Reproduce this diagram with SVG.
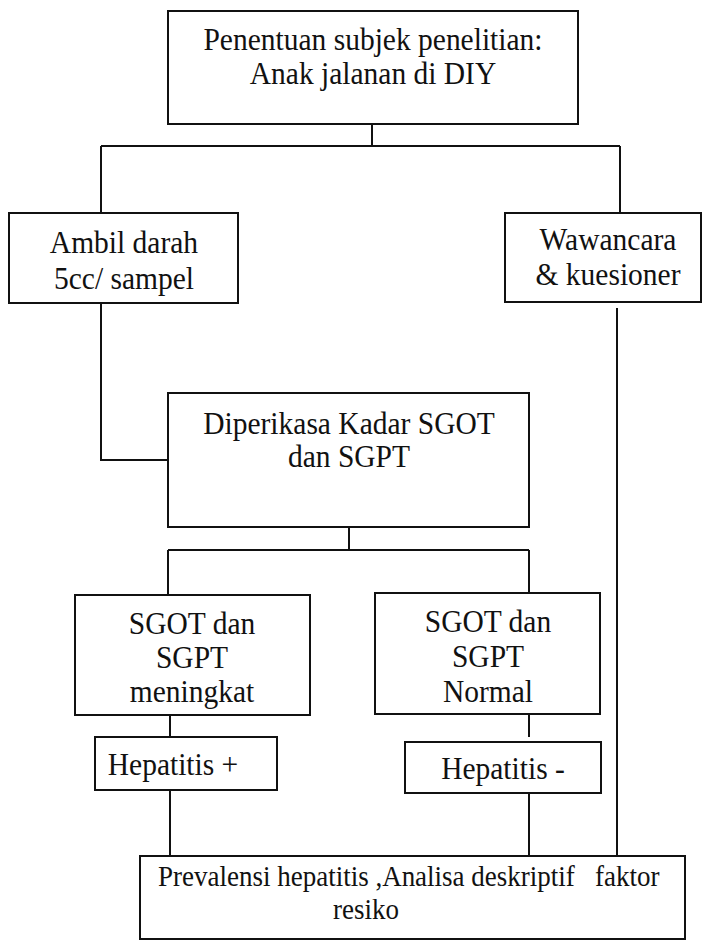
<svg xmlns="http://www.w3.org/2000/svg" width="702" height="945" viewBox="0 0 702 945">
<style>
.box{fill:#fff;stroke:#111;stroke-width:2}
.ln{fill:none;stroke:#111;stroke-width:2}
text{font-family:"Liberation Serif","Times New Roman",serif;font-size:29.5px;fill:#111;text-anchor:middle}
.sm{font-size:27px}
</style>
<rect width="702" height="945" fill="#fff"/>
<g id="connectors">
<path class="ln" d="M372,124V146M101,146H620M101,146V213M620,146V213"/>
<path class="ln" d="M101,303V460H168"/>
<path class="ln" d="M617,308V856"/>
<path class="ln" d="M349,527V550M168,550H529M168,550V595M529,550V593"/>
<path class="ln" d="M170,715V737M170,790V856"/>
<path class="ln" d="M529,714V737M529,793V856"/>
</g>
<g id="n-subjek">
<rect class="box" x="168" y="11" width="410" height="113"/>
<text x="373" y="0" transform="translate(0,50) scale(1,1.1)">Penentuan subjek penelitian:</text>
<text x="373" y="0" transform="translate(0,84) scale(1,1.1)">Anak jalanan di DIY</text>
</g>
<g id="n-ambil">
<rect class="box" x="9" y="213" width="229" height="90"/>
<text x="124" y="0" transform="translate(0,253) scale(1,1.1)">Ambil darah</text>
<text x="124" y="0" transform="translate(0,289) scale(1,1.1)">5cc/ sampel</text>
</g>
<g id="n-wawancara">
<rect class="box" x="505" y="213" width="196" height="89"/>
<text x="608" y="0" transform="translate(0,250) scale(1,1.1)">Wawancara</text>
<text x="608" y="0" transform="translate(0,285) scale(1,1.1)">&amp; kuesioner</text>
</g>
<g id="n-diperiksa">
<rect class="box" x="168" y="393" width="361" height="134"/>
<text x="349" y="0" transform="translate(0,434) scale(1,1.1)">Diperikasa Kadar SGOT</text>
<text x="349" y="0" transform="translate(0,467) scale(1,1.1)">dan SGPT</text>
</g>
<g id="n-meningkat">
<rect class="box" x="75" y="595" width="235" height="120"/>
<text x="192" y="0" transform="translate(0,634) scale(1,1.1)">SGOT dan</text>
<text x="192" y="0" transform="translate(0,668) scale(1,1.1)">SGPT</text>
<text x="192" y="0" transform="translate(0,702) scale(1,1.1)">meningkat</text>
</g>
<g id="n-normal">
<rect class="box" x="375" y="593" width="225" height="121"/>
<text x="488" y="0" transform="translate(0,632) scale(1,1.1)">SGOT dan</text>
<text x="488" y="0" transform="translate(0,667) scale(1,1.1)">SGPT</text>
<text x="488" y="0" transform="translate(0,702) scale(1,1.1)">Normal</text>
</g>
<g id="n-hepplus">
<rect class="box" x="95" y="737" width="182" height="53"/>
<text x="173" y="0" transform="translate(0,775) scale(1,1.1)">Hepatitis +</text>
</g>
<g id="n-hepminus">
<rect class="box" x="405" y="742" width="196" height="51"/>
<text x="503" y="0" transform="translate(0,779) scale(1,1.1)">Hepatitis -</text>
</g>
<g id="n-prevalensi">
<rect class="box" x="140" y="856" width="545" height="83"/>
<text class="sm" x="158" y="0" transform="translate(0,886) scale(1,1.1)" style="text-anchor:start" xml:space="preserve">Prevalensi hepatitis ,Analisa deskriptif   faktor</text>
<text class="sm" x="366" y="0" transform="translate(0,919) scale(1,1.1)">resiko</text>
</g>
</svg>
